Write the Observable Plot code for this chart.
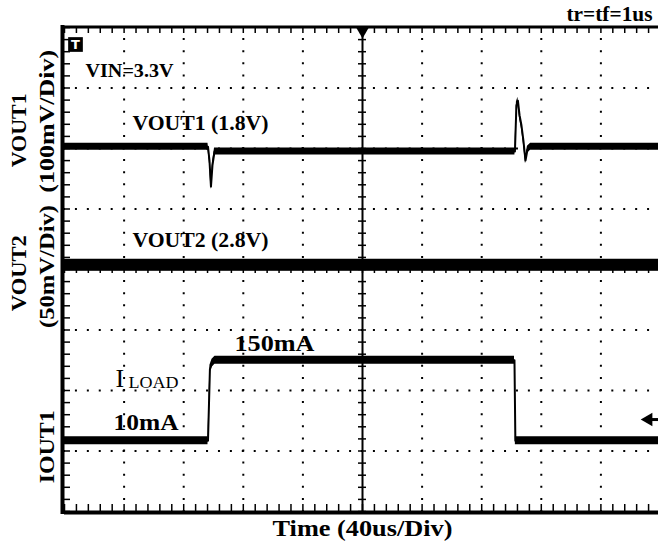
<!DOCTYPE html>
<html><head><meta charset="utf-8">
<script src="https://cdn.jsdelivr.net/npm/d3@7"></script>
<script src="https://cdn.jsdelivr.net/npm/@observablehq/plot@0.6"></script>
<style>
html,body{margin:0;padding:0;background:#fff;}
#chart{width:658px;height:547px;overflow:hidden;}
</style></head><body><div id="chart"></div>
<script>
// horizontal: time in microseconds (40 us/div, 10 div); vertical: screen divisions (8 div)
const timeDomain = [0, 400];
const divDomain = [0, 8];
const gridTimes = [40, 80, 120, 160, 240, 280, 320, 360];
const gridDivs = [1, 2, 3, 5, 6, 7];
const centerTime = [200];
const centerDiv = [4];
const minorTimes = d3.range(0, 401, 8);
const minorDivs = d3.range(0, 8.01, 0.2);

// traces
const vout1Time = [0, 96.3, 97.3, 98.3, 99.3, 100.7, 302.3, 303.3, 304.3, 305.4, 306.7, 308.0, 309.4, 310.7, 312.8, 400];
const vout1Div  = [6.03, 6.03, 5.80, 5.37, 5.72, 5.95, 5.95, 6.71, 6.79, 6.55, 6.38, 6.13, 5.80, 5.98, 6.03, 6.03];
const vout2Time = [0, 300, 303, 306, 400];
const vout2Div  = [4.07, 4.07, 4.07, 4.07, 4.07];
const ioutTime  = [0, 96.3, 97.0, 97.6, 99.0, 101.0, 302.0, 302.6, 400];
const ioutDiv   = [1.17, 1.17, 1.8, 2.35, 2.45, 2.5, 2.5, 1.17, 1.17];

// in-graph annotations
const noteText = ["VIN=3.3V", "VOUT1 (1.8V)", "VOUT2 (2.8V)", "150mA", "10mA"];
const noteTime = [14.1, 45.6, 45.6, 114.1, 32.9];
const noteDiv  = [7.19, 6.30, 4.38, 2.66, 1.355];
const noteSize = [19, 20, 20, 24, 24];
const loadLabelTime = [34.2];
const loadLabelDiv = [2.05];

// axis titles (two rotated columns at the left)
const outerText = ["VOUT1", "VOUT2"];
const outerDiv  = [6.30, 3.94];
const innerText = ["(100mV/Div)", "(50mV/Div)", "IOUT1"];
const innerDiv  = [6.45, 4.05, 1.07];
const xTitle = "Time (40us/Div)";
const cornerNote = "tr=tf=1us";

const labelWidths = {
  "VIN=3.3V": 88, "VOUT1 (1.8V)": 136, "VOUT2 (2.8V)": 136, "150mA": 80, "10mA": 65, "LOAD": 50,
  "VOUT1": 74, "(100mV/Div)": 143, "(50mV/Div)": 123, "VOUT2": 76, "IOUT1": 73,
  "Time (40us/Div)": 180, "tr=tf=1us": 86
};

const toRows = (ts, vs) => ts.map((t, i) => ({t, v: vs[i]}));
const vout1 = toRows(vout1Time, vout1Div);
const vout2 = toRows(vout2Time, vout2Div);
const iout = toRows(ioutTime, ioutDiv);
const notes = noteText.map((s, i) => ({s, t: noteTime[i], v: noteDiv[i], f: noteSize[i]}));
const outer = outerText.map((s, i) => ({s, v: outerDiv[i]}));
const inner = innerText.map((s, i) => ({s, v: innerDiv[i]}));

const pxDiv = 60.5;
const band = (rows, halfPx) => Plot.areaY(rows, {x: "t", y1: d => d.v - halfPx / pxDiv, y2: d => d.v + halfPx / pxDiv, fill: "black"});
const trace = rows => Plot.line(rows, {x: "t", y: "v", stroke: "black", strokeWidth: 2});
const serif = "Liberation Serif, Times New Roman, serif";
const sideLabel = (rows, dx) => Plot.text(rows, {frameAnchor: "left", y: "v", text: "s", dx, rotate: -90, fontSize: 22, fontWeight: "bold", textAnchor: "middle", lineAnchor: "middle", fill: "black"});

const chart = Plot.plot({
  width: 658, height: 547,
  marginLeft: 64, marginRight: -2, marginTop: 27, marginBottom: 36,
  x: {domain: timeDomain, axis: null},
  y: {domain: divDomain, axis: null},
  style: {background: "white", fontFamily: serif},
  marks: [
    // dotted graticule
    Plot.ruleX(gridTimes, {x: d => d, stroke: "black", strokeWidth: 2, strokeDasharray: "2,10.1", strokeDashoffset: 1}),
    Plot.ruleY(gridDivs, {y: d => d, stroke: "black", strokeWidth: 2, strokeDasharray: "2,9.92", strokeDashoffset: 1}),
    // center crosshair
    Plot.ruleX(centerTime, {x: d => d, stroke: "black", strokeWidth: 2}),
    Plot.ruleY(centerDiv, {y: d => d, stroke: "black", strokeWidth: 1.5}),
    Plot.ruleY(minorDivs, {y: d => d, x1: centerTime[0], x2: centerTime[0], insetLeft: -4, insetRight: -4, stroke: "black", strokeWidth: 1.5}),
    Plot.ruleX(minorTimes, {x: d => d, y1: centerDiv[0], y2: centerDiv[0], insetTop: -4, insetBottom: -4, stroke: "black", strokeWidth: 1.5}),
    // border minor ticks
    Plot.ruleX(minorTimes, {x: d => d, insetBottom: 484 - 6, stroke: "black", strokeWidth: 1.5}),
    Plot.ruleX(minorTimes, {x: d => d, insetTop: 484 - 7, stroke: "black", strokeWidth: 1.5}),
    Plot.ruleY(minorDivs, {y: d => d, insetRight: 596 - 6, stroke: "black", strokeWidth: 1.5}),
    // frame
    Plot.ruleY([divDomain[1]], {stroke: "black", strokeWidth: 3, dy: -0.5}),
    Plot.ruleY([divDomain[0]], {stroke: "black", strokeWidth: 4, dy: 1}),
    Plot.ruleX([timeDomain[0]], {stroke: "black", strokeWidth: 4, dx: -2, insetTop: -2, insetBottom: -3}),
    // trigger marker
    Plot.dot(centerTime, {x: d => d, y: divDomain[1], symbol: "triangle", rotate: 180, r: 4.5, fill: "black", dy: 4}),
    // channel marker "T"
    Plot.dot([0], {x: d => d, y: divDomain[1], symbol: "square", r: 8.3, fill: "black", dx: 11, dy: 17}),
    Plot.text(["T"], {x: 0, y: divDomain[1], text: d => d, fill: "white", fontSize: 13, fontWeight: "bold", fontFamily: "DejaVu Sans", dx: 11, dy: 17}),
    // ground marker arrow (channel 3)
    Plot.dot([ioutDiv[0]], {x: timeDomain[1], y: d => d + 0.35, symbol: "triangle", rotate: -90, r: 5, fill: "black", dx: -12}),
    Plot.ruleY([ioutDiv[0]], {y: d => d + 0.35, x1: timeDomain[1], x2: timeDomain[1], insetLeft: -12, stroke: "black", strokeWidth: 3}),
    // traces: noise band + core line
    band(vout1, 3.5), trace(vout1),
    band(vout2, 6), trace(vout2),
    band(iout, 4), trace(iout),
    // annotations
    Plot.text(notes, {x: "t", y: "v", text: "s", fontSize: "f", fontWeight: "bold", textAnchor: "start", lineAnchor: "bottom", fill: "black"}),
    Plot.text(["I"], {x: loadLabelTime, y: loadLabelDiv, text: d => d, fontSize: 26, fontWeight: "normal", textAnchor: "start", lineAnchor: "bottom", fill: "black"}),
    Plot.text(["LOAD"], {x: loadLabelTime, y: loadLabelDiv, text: d => d, fontSize: 17, fontWeight: "normal", textAnchor: "start", lineAnchor: "bottom", fill: "black", dx: 13, dy: 1}),
    sideLabel(outer, -46),
    sideLabel(inner, -18),
    Plot.text([xTitle], {frameAnchor: "bottom", x: centerTime[0], text: d => d, fontSize: 24, fontWeight: "bold", lineAnchor: "bottom", dy: 24, fill: "black"}),
    Plot.text([cornerNote], {frameAnchor: "top-right", text: d => d, fontSize: 20, fontWeight: "bold", textAnchor: "end", lineAnchor: "bottom", dx: -8, dy: -7, fill: "black"})
  ]
});

d3.select(chart).selectAll("text").each(function () {
  const s = this.textContent;
  if (labelWidths[s]) {
    this.setAttribute("textLength", labelWidths[s]);
    this.setAttribute("lengthAdjust", "spacingAndGlyphs");
  }
});
document.getElementById("chart").appendChild(chart);
</script></body></html>
